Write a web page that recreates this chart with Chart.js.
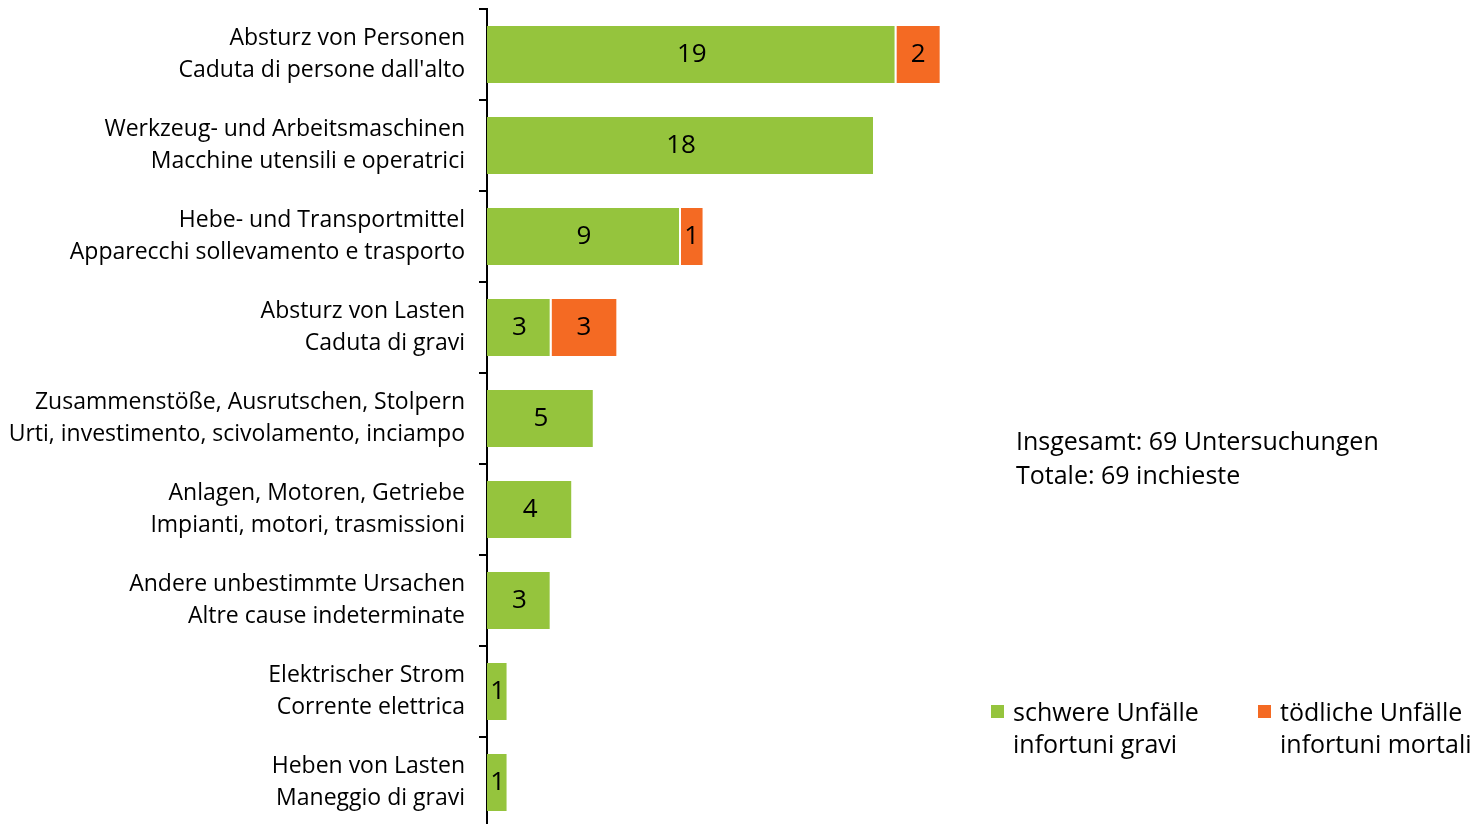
<!DOCTYPE html>
<html>
<head>
<meta charset="utf-8">
<script src="https://cdn.jsdelivr.net/npm/chart.js@4/dist/chart.umd.min.js"></script>
<style>
	body { margin: 0; background: #fff; overflow: hidden; font-family: "Open Sans", sans-serif; }
	#wrap { position: relative; width: 1471px; height: 830px; }
	#note { position: absolute; left: 1016px; top: 423px; font-size: 25px; line-height: 34px; color: #000; white-space: nowrap; }
	.leg { position: absolute; top: 695px; font-size: 25px; line-height: 32px; color: #000; white-space: nowrap; }
	.leg .sw { position: absolute; left: -22px; top: 10px; width: 13px; height: 13px; }
</style>
</head>
<body>
<div id="wrap">
	<canvas id="chart" width="1471" height="830"></canvas>
	<div id="note">Insgesamt: 69 Untersuchungen<br>Totale: 69 inchieste</div>
	<div id="legend"></div>
</div>
<script>
// categories (german / italian)
const categories = [
	['Absturz von Personen', "Caduta di persone dall'alto"],
	['Werkzeug- und Arbeitsmaschinen', 'Macchine utensili e operatrici'],
	['Hebe- und Transportmittel', 'Apparecchi sollevamento e trasporto'],
	['Absturz von Lasten', 'Caduta di gravi'],
	['Zusammenstöße, Ausrutschen, Stolpern', 'Urti, investimento, scivolamento, inciampo'],
	['Anlagen, Motoren, Getriebe', 'Impianti, motori, trasmissioni'],
	['Andere unbestimmte Ursachen', 'Altre cause indeterminate'],
	['Elektrischer Strom', 'Corrente elettrica'],
	['Heben von Lasten', 'Maneggio di gravi']
];
const seriesNames = [
	['schwere Unfälle', 'infortuni gravi'],
	['tödliche Unfälle', 'infortuni mortali']
];
const severe = [19, 18, 9, 3, 5, 4, 3, 1, 1];
const fatal = [2, 0, 1, 3, 0, 0, 0, 0, 0];
const colors = ['#95c43d', '#f46a23'];

// numbers inside the bars
const barLabels = {
	id: 'barLabels',
	afterDatasetsDraw(chart) {
		const ctx = chart.ctx;
		ctx.save();
		ctx.font = '26px "Open Sans", sans-serif';
		ctx.fillStyle = '#000';
		ctx.textAlign = 'center';
		ctx.textBaseline = 'middle';
		chart.data.datasets.forEach(function (ds, i) {
			chart.getDatasetMeta(i).data.forEach(function (bar, j) {
				const v = ds.data[j];
				if (!v) return;
				const p = bar.getProps(['x', 'y', 'base'], true);
				ctx.fillText(String(v), (p.x + p.base) / 2, p.y);
			});
		});
		ctx.restore();
	}
};

new Chart(document.getElementById('chart'), {
	type: 'bar',
	data: {
		labels: categories,
		datasets: [{
			label: seriesNames[0].join(' '),
			data: severe,
			backgroundColor: colors[0],
			borderColor: '#fff',
			borderWidth: { top: 0, bottom: 0, left: 0, right: 2 },
			borderSkipped: false
		}, {
			label: seriesNames[1].join(' '),
			data: fatal,
			backgroundColor: colors[1],
			borderWidth: 0
		}]
	},
	options: {
		indexAxis: 'y',
		responsive: false,
		animation: false,
		layout: { padding: { top: 9, bottom: 2, left: 0, right: 14 } },
		plugins: { legend: { display: false }, tooltip: { enabled: false } },
		datasets: { bar: { categoryPercentage: 1, barPercentage: 0.626 } },
		scales: {
			x: { stacked: true, min: 0, max: 45, display: false },
			y: {
				stacked: true,
				afterFit: function (scale) {
					scale.width = 487;
					scale.paddingTop = 0;
					scale.paddingBottom = 0;
				},
				grid: { drawOnChartArea: false, color: '#000', lineWidth: 2, tickLength: 8, offset: true },
				border: { display: true, color: '#000', width: 2 },
				ticks: { color: '#000', padding: 14, font: { family: '"Open Sans", sans-serif', size: 23, lineHeight: 1.4 } }
			}
		}
	},
	plugins: [barLabels]
});

// legend
const legend = document.getElementById('legend');
[1013, 1280].forEach(function (left, i) {
	const item = document.createElement('div');
	item.className = 'leg';
	item.style.left = left + 'px';
	item.innerHTML = '<span class="sw" style="background:' + colors[i] + '"></span>' + seriesNames[i].join('<br>');
	legend.appendChild(item);
});
</script>
</body>
</html>
